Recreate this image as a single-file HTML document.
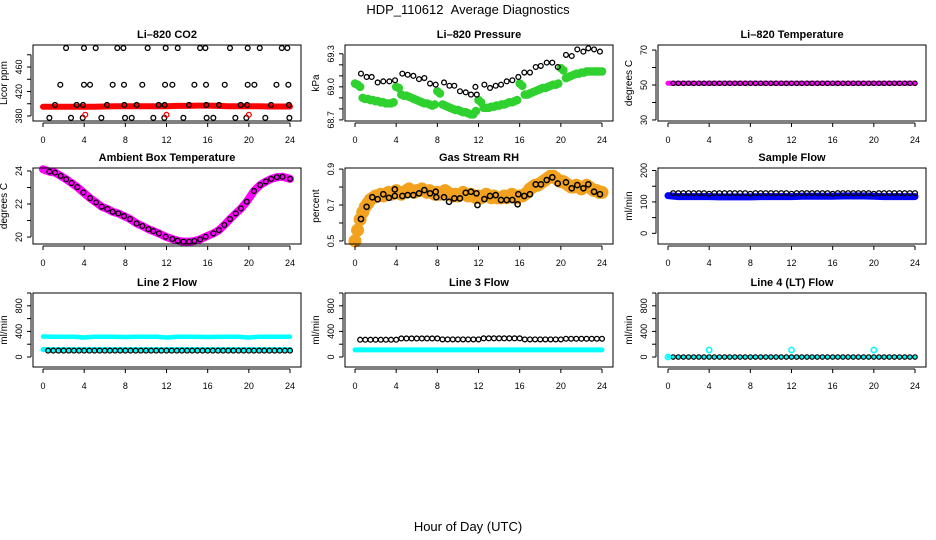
<!DOCTYPE html>
<html><head><meta charset="utf-8"><style>
html,body{margin:0;padding:0;background:#fff}
svg{display:block;font-family:"Liberation Sans",sans-serif}
</style></head><body>
<svg id="c" width="936" height="540" viewBox="0 0 936 540">
<text x="468" y="14" font-size="13" text-anchor="middle">HDP_110612&#160;&#160;Average Diagnostics</text>
<text x="468" y="531" font-size="13" text-anchor="middle">Hour of Day (UTC)</text>
</svg>
<script>
// ---------- data ----------
const xTicks=[0,4,8,12,16,20,24];
// CO2
const co2BlackT=[2.24,3.98,5.12,7.22,7.81,10.17,11.92,13.09,15.26,15.78,18.17,19.89,21.06,23.2,23.74,
1.68,3.98,4.57,6.77,7.87,9.65,11.86,12.57,14.71,15.84,17.66,19.89,20.54,22.68,23.84,
1.17,3.27,3.89,6.22,7.9,9.1,11.24,11.82,14.19,15.87,17.1,19.21,19.83,22.16,23.9,
0.62,2.72,3.86,5.67,7.97,8.62,10.72,11.79,13.64,15.9,16.55,18.69,19.76,21.6,23.94];
const co2BlackV=[491,491,491,491,491,491,491,491,491,491,491,491,491,491,491,
431,431,431,431,431,431,431,431,431,431,431,431,431,431,431,
398,398,398,398,398,398,398,398,398,398,398,398,398,398,398,
377,377,377,377,377,377,377,377,377,377,377,377,377,377,377];
const co2RedT=[0,1,2,3,4,5,6,7,8,9,10,11,12,13,14,15,16,17,18,19,20,21,22,23,24];
const co2RedV=[395,395,395,395,395,395,395.5,396,396,396,396,396,396,396.5,396.5,397,397,396.5,396,396,396,396,395.5,395.5,395.5];
const co2RedLowT=[4.1,12.0,20.0];
const co2RedLowV=[382,382,382];
// Pressure
const pressBT=[0.58,1.13,1.62,2.2,2.75,3.34,3.89,4.6,5.12,5.67,6.22,6.74,7.29,7.84,8.65,9.17,9.65,10.2,10.76,11.27,11.83,11.7,12.57,13.12,13.67,14.19,14.74,15.29,15.87,16.45,17.0,17.56,18.05,18.63,19.17,19.7,20.5,21.06,21.6,22.19,22.67,23.23,23.8];
const pressBV=[69.12,69.09,69.09,69.04,69.05,69.05,69.06,69.12,69.11,69.10,69.07,69.08,69.03,69.02,69.04,69.01,69.01,68.96,68.95,68.93,68.93,69.0,69.02,68.99,69.01,69.02,69.05,69.06,69.09,69.13,69.13,69.18,69.19,69.22,69.22,69.18,69.29,69.28,69.34,69.32,69.35,69.34,69.32];
const pressGreenV=[69.03,69.02,69.0,68.90,68.89,68.89,68.88,68.88,68.87,68.87,68.86,68.86,68.85,68.85,68.85,68.86,
69.00,68.99,68.93,68.92,68.92,68.91,68.90,68.89,68.88,68.87,68.86,68.85,68.85,68.84,68.83,68.84,
68.96,68.94,68.84,68.83,68.82,68.81,68.80,68.79,68.79,68.78,68.77,68.77,68.76,68.75,68.75,68.78,
68.88,68.86,68.81,68.81,68.81,68.82,68.82,68.83,68.83,68.84,68.84,68.85,68.86,68.86,68.87,68.88,
69.03,69.01,68.93,68.93,68.94,68.95,68.96,68.97,68.98,68.99,68.99,69.00,69.01,69.02,69.02,69.03,
69.17,69.15,69.08,69.09,69.10,69.11,69.12,69.12,69.13,69.13,69.14,69.14,69.14,69.14,69.14,69.14,69.14];
// Li-820 temperature
const liTempBlack=[51,51,51,51,51,51,51,51,51,51,51,51,51,51,51,51,51,51,51,51,51,51,51,51,51,51,51,51,51,51,51,51,51,51,51,51,51,51,51,51,51,51,51,51,51,51,51,51];
const liTempBand=[51,51,51,51,51,51,51,51,51,51,51,51,51,51,51,51,51,51,51,51,51,51,51,51,51];
// Ambient
const ambT=[0.62,1.17,1.72,2.25,2.78,3.33,3.92,4.57,5.15,5.7,6.25,6.77,7.32,7.87,8.45,9.1,9.65,10.24,10.72,11.27,11.92,12.57,13.09,13.64,14.19,14.71,15.26,15.8,16.55,17.1,17.62,18.17,18.73,19.24,19.8,20.5,21.1,21.65,22.17,22.72,23.27,24.0];
const ambV=[23.96,23.9,23.7,23.5,23.27,23.02,22.7,22.36,22.1,21.84,21.7,21.53,21.43,21.27,21.09,20.83,20.67,20.48,20.36,20.22,20.02,19.88,19.78,19.72,19.72,19.76,19.86,20.02,20.22,20.42,20.73,21.09,21.43,21.73,22.14,22.79,23.15,23.36,23.52,23.62,23.65,23.52];
const ambStartV=24.1;
// RH
const rhBT=[0.58,1.13,1.68,2.2,2.75,3.3,3.87,3.87,4.6,5.12,5.67,6.22,6.74,7.29,7.84,7.9,8.65,9.14,9.65,10.2,10.76,11.27,11.8,11.9,12.57,13.12,13.67,14.19,14.74,15.29,15.87,15.8,16.45,17.0,17.56,18.07,18.63,19.17,19.7,20.5,21.06,21.6,22.19,22.67,23.23,23.8];
const rhBV=[0.622,0.69,0.743,0.732,0.76,0.74,0.787,0.75,0.75,0.755,0.755,0.765,0.783,0.765,0.774,0.743,0.743,0.718,0.737,0.737,0.768,0.774,0.765,0.70,0.733,0.75,0.755,0.728,0.728,0.728,0.76,0.704,0.75,0.76,0.815,0.815,0.839,0.854,0.82,0.826,0.793,0.811,0.793,0.815,0.774,0.76];
const rhBand=[0.50,0.56,0.62,0.66,0.69,0.71,0.73,0.74,0.75,
0.75,0.76,0.75,0.76,0.77,0.76,0.77,0.78,
0.77,0.76,0.77,0.78,0.79,0.78,0.77,0.78,
0.78,0.79,0.78,0.77,0.78,0.77,0.76,0.77,
0.76,0.77,0.78,0.77,0.76,0.75,0.76,0.75,
0.76,0.77,0.76,0.75,0.76,0.75,0.74,0.75,
0.74,0.75,0.76,0.75,0.74,0.75,0.74,0.74,
0.74,0.75,0.74,0.75,0.76,0.75,0.74,0.75,
0.75,0.76,0.77,0.79,0.80,0.81,0.81,0.82,
0.83,0.84,0.85,0.86,0.86,0.85,0.84,0.83,
0.83,0.82,0.81,0.80,0.80,0.81,0.80,0.79,
0.80,0.81,0.80,0.79,0.78,0.78,0.77,0.77];
// Sample flow
const sampleBlack=[128,128,128,128,128,128,128,126,128,128,128,128,128,128,128,126,128,128,128,128,128,128,128,126,128,128,128,128,128,128,128,126,128,128,128,128,128,128,128,126,128,128,128,128,128,128,128,128];
const sampleBand=[120,117,117,117,117,116,116,116,116,117,117,117,117,118,118,118,118,119,119,119,118,117,117,117,117];
// Line 2
const line2Black=[100,100,100,100,100,100,100,100,100,100,100,100,100,100,100,100,100,100,100,100,100,100,100,100,100,100,100,100,100,100,100,100,100,100,100,100,100,100,100,100,100,100,100,100,100,100,100,100];
const line2Upper=[320,317,317,317,305,317,317,317,312,317,317,317,305,317,317,317,312,317,317,317,305,317,317,317,317];
const line2Lower=[115,115,115,115,115,115,115,115,115,115,115,115,115,115,115,115,115,115,115,115,115,115,115,115,115];
// Line 3
const line3Black=[270,270,270,270,270,270,270,270,290,290,290,290,290,290,290,290,275,275,275,275,275,275,275,275,292,292,292,292,292,292,292,292,275,275,275,275,275,275,275,275,285,285,285,285,285,285,285,285];
const line3Lower=[112,112,112,112,112,112,112,112,112,112,112,112,112,112,112,112,112,112,112,112,112,112,112,112,112];
// Line 4
const line4Black=[0,0,0,0,0,0,0,0,0,0,0,0,0,0,0,0,0,0,0,0,0,0,0,0,0,0,0,0,0,0,0,0,0,0,0,0,0,0,0,0,0,0,0,0,0,0,0,0];
const line4Band=[0,0,0,0,0,0,0,0,0,0,0,0,0,0,0,0,0,0,0,0,0,0,0,0,0];
const line4CyanT=[0,4,12,20];
const line4CyanV=[0,110,110,110];

// ---------- time categories ----------
const tHalf=[];for(let i=1;i<=48;i++)tHalf.push(i*0.5);
const tHour=[];for(let i=0;i<=24;i++)tHour.push(i);
const tQuarter=[];for(let i=0;i<=96;i++)tQuarter.push(i*0.25);

// ---------- drawing ----------
const svg=document.getElementById('c');
const NS='http://www.w3.org/2000/svg';
function mk(tag,attrs,parent){const e=document.createElementNS(NS,tag);for(const k in attrs)e.setAttribute(k,attrs[k]);(parent||svg).appendChild(e);return e;}
const cols=[43,355,668];const rows=[[45,121],[168,244],[293,367]];
function panel(col,row,name,title,ytitle,ymin,ymax,ticks,labels){
  const x0=cols[col],x1=x0+247;const top=rows[row][0],bot=rows[row][1];
  const g=mk('g',{});
  
  
  const xs=t=>x0+(t/24)*(x1-x0);
  const ys=v=>bot-(v-ymin)/(ymax-ymin)*(bot-top);
  const bl=x0-10,br=x1+11;
  const plot=mk('g',{},g);
  
  
  const box=mk('rect',{x:bl,y:top,width:br-bl,height:bot-top,fill:'none',stroke:'#000','stroke-width':1},g);
  
  
  const tt=mk('text',{x:(bl+br)/2,y:top-7,'font-size':11,'font-weight':'bold','text-anchor':'middle'},g);
  tt.textContent=title;
  
  
  const xa=mk('g',{},g);
  
  
  mk('line',{x1:xs(0),x2:xs(24),y1:bot+2,y2:bot+2,stroke:'#000'},xa);
  xTicks.forEach(t=>{mk('line',{x1:xs(t),x2:xs(t),y1:bot+2,y2:bot+6,stroke:'#000'},xa);
    const l=mk('text',{x:xs(t),y:bot+22,'font-size':9,'text-anchor':'middle'},xa);l.textContent=t;});
  const ya=mk('g',{},g);
  
  
  mk('line',{x1:bl-2,x2:bl-2,y1:ys(ticks[0]),y2:ys(ticks[ticks.length-1]),stroke:'#000'},ya);
  ticks.forEach(v=>{mk('line',{x1:bl-6,x2:bl-2,y1:ys(v),y2:ys(v),stroke:'#000'},ya);});
  labels.forEach(v=>{const X=bl-11,Y=ys(v);const l=mk('text',{x:X,y:Y,'font-size':9,'text-anchor':'middle',transform:`rotate(-90 ${X} ${Y})`},ya);l.textContent=v;});
  const yt=mk('text',{x:bl-26,y:(top+bot)/2,'font-size':10,'text-anchor':'middle',transform:`rotate(-90 ${bl-26} ${(top+bot)/2})`},g);
  yt.textContent=ytitle;
  
  
  return {xs,ys,plot};
}
function rings(p,T,V,color,name,r,w){const g=mk('g',{},p.plot);
  
  
  T.forEach((t,i)=>{mk('circle',{cx:p.xs(t),cy:p.ys(V[i]),r:r||2.4,fill:'none',stroke:color,'stroke-width':w||1.3},g);});}
function blobs(p,T,V,color,name,r){const g=mk('g',{},p.plot);
  
  
  T.forEach((t,i)=>{mk('circle',{cx:p.xs(t),cy:p.ys(V[i]),r:r,fill:color},g);});}
function band(p,T,V,color,name,w){const pl=mk('polyline',{points:T.map((t,i)=>p.xs(t)+','+p.ys(V[i])).join(' '),fill:'none',stroke:color,'stroke-width':w,'stroke-linejoin':'round','stroke-linecap':'round'},p.plot);
  
  }

// CO2
let p=panel(0,0,'co2','Li\u2013820 CO2','Licor ppm',371.8,496,[380,400,420,440,460,480],[380,420,460]);
band(p,co2RedT,co2RedV,'#ff0000','co2-red-band',6);
rings(p,co2BlackT,co2BlackV,'#000','co2-black-points');
rings(p,co2RedLowT,co2RedLowV,'#ff0000','co2-red-points');
// Pressure
p=panel(1,0,'pressure','Li\u2013820 Pressure','kPa',68.69,69.38,[68.7,68.8,68.9,69.0,69.1,69.2,69.3],['68.7','69.0','69.3']);
blobs(p,tQuarter,pressGreenV,'#2fd12f','pressure-green-band',4.3);
rings(p,pressBT,pressBV,'#000','pressure-black-points');
// Li temp
p=panel(2,0,'li-temperature','Li\u2013820 Temperature','degrees C',29.4,72.9,[30,40,50,60,70],[30,50,70]);
band(p,tHour,liTempBand,'#ff00ff','li-temp-magenta-band',5);
rings(p,tHalf,liTempBlack,'#000','li-temp-black-points',2.2,1.1);
// Ambient
p=panel(0,1,'ambient','Ambient Box Temperature','degrees C',19.58,24.18,[20,21,22,23,24],[20,22,24]);
band(p,[0].concat(ambT),[ambStartV].concat(ambV),'#ff00ff','ambient-magenta-band',8);
rings(p,ambT,ambV,'#000','ambient-black-points');
// RH
p=panel(1,1,'rh','Gas Stream RH','percent',0.483,0.906,[0.5,0.6,0.7,0.8,0.9],['0.5','0.7','0.9']);
blobs(p,tQuarter,rhBand,'#f2a21e','rh-orange-band',6.5);
rings(p,rhBT,rhBV,'#000','rh-black-points',2.6,1.5);
// Sample flow
p=panel(2,1,'sample-flow','Sample Flow','ml/min',-34,208,[0,50,100,150,200],[0,100,200]);
band(p,tHour,sampleBand,'#0000ff','sample-blue-band',7);
rings(p,tHalf,sampleBlack,'#000','sample-black-points');
// Line 2
p=panel(0,2,'line2-flow','Line 2 Flow','ml/min',-156,1000,[0,200,400,600,800,1000],[0,400,800]);
band(p,tHour,line2Upper,'#00ffff','line2-cyan-upper-band',4.5);
band(p,tHour,line2Lower,'#00ffff','line2-cyan-lower-band',5);
rings(p,tHalf,line2Black,'#000','line2-black-points');
// Line 3
p=panel(1,2,'line3-flow','Line 3 Flow','ml/min',-156,1000,[0,200,400,600,800,1000],[0,400,800]);
band(p,tHour,line3Lower,'#00ffff','line3-cyan-lower-band',5);
rings(p,tHalf,line3Black,'#000','line3-black-points');
// Line 4
p=panel(2,2,'line4-flow','Line 4 (LT) Flow','ml/min',-156,1000,[0,200,400,600,800,1000],[0,400,800]);
band(p,tHour,line4Band,'#00ffff','line4-cyan-band',3);
rings(p,tHalf,line4Black,'#000','line4-black-points',2.2,1.2);
rings(p,line4CyanT,line4CyanV,'#00ffff','line4-cyan-points',2.6,1.6);
</script>
</body></html>
